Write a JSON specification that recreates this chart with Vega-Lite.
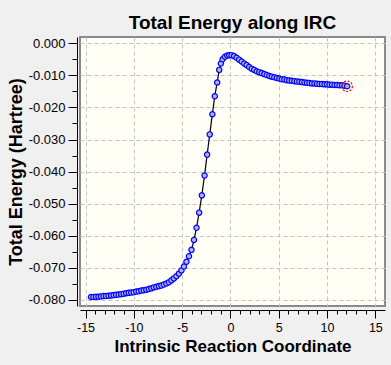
{
  "$schema": "https://vega.github.io/schema/vega-lite/v6.json",
  "autosize": {"type": "none"},
  "padding": {"left": 80, "top": 37, "right": 6, "bottom": 59},
  "width": 305,
  "height": 269,
  "background": "#F0F0F0",
  "title": {"text": "Total Energy along IRC", "fontSize": 19, "font": "Liberation Sans", "fontWeight": "bold", "color": "#000000", "anchor": "middle", "baseline": "alphabetic", "offset": -11},
  "config": {
    "view": {"fill": "#FFFFF5", "stroke": "#8A8A8A", "strokeWidth": 2},
    "axis": {"labelFont": "Liberation Sans", "titleFont": "Liberation Sans", "labelColor": "#000000", "titleColor": "#000000", "domainColor": "#000000", "tickColor": "#000000", "gridColor": "#C4C4C4", "gridDash": [4, 3], "gridWidth": 1, "labelOverlap": false, "labelFlush": false}
  },
  "data": {"values": [
    {"x": -14.43, "energy": -0.0791}, {"x": -14.17, "energy": -0.0791}, {"x": -13.91, "energy": -0.0790}, {"x": -13.65, "energy": -0.0790},
    {"x": -13.39, "energy": -0.0789}, {"x": -13.13, "energy": -0.0788}, {"x": -12.87, "energy": -0.0788}, {"x": -12.61, "energy": -0.0787},
    {"x": -12.35, "energy": -0.0786}, {"x": -12.09, "energy": -0.0785}, {"x": -11.83, "energy": -0.0784}, {"x": -11.57, "energy": -0.0783},
    {"x": -11.31, "energy": -0.0782}, {"x": -11.05, "energy": -0.0781}, {"x": -10.79, "energy": -0.0779}, {"x": -10.53, "energy": -0.0778},
    {"x": -10.27, "energy": -0.0777}, {"x": -10.01, "energy": -0.0776}, {"x": -9.75, "energy": -0.0774}, {"x": -9.49, "energy": -0.0773},
    {"x": -9.23, "energy": -0.0771}, {"x": -8.97, "energy": -0.0770}, {"x": -8.71, "energy": -0.0768}, {"x": -8.45, "energy": -0.0766},
    {"x": -8.19, "energy": -0.0764}, {"x": -7.93, "energy": -0.0761}, {"x": -7.67, "energy": -0.0759}, {"x": -7.41, "energy": -0.0757},
    {"x": -7.15, "energy": -0.0755}, {"x": -6.89, "energy": -0.0752}, {"x": -6.63, "energy": -0.0749}, {"x": -6.37, "energy": -0.0745},
    {"x": -6.11, "energy": -0.0739}, {"x": -5.85, "energy": -0.0733}, {"x": -5.59, "energy": -0.0726}, {"x": -5.33, "energy": -0.0718},
    {"x": -5.07, "energy": -0.0708}, {"x": -4.81, "energy": -0.0696}, {"x": -4.55, "energy": -0.0681}, {"x": -4.29, "energy": -0.0664},
    {"x": -4.03, "energy": -0.0644}, {"x": -3.77, "energy": -0.0613}, {"x": -3.51, "energy": -0.0575}, {"x": -3.24, "energy": -0.0528},
    {"x": -2.96, "energy": -0.0474}, {"x": -2.68, "energy": -0.0412}, {"x": -2.41, "energy": -0.0347}, {"x": -2.14, "energy": -0.0284},
    {"x": -1.87, "energy": -0.0221}, {"x": -1.62, "energy": -0.0165}, {"x": -1.37, "energy": -0.0122}, {"x": -1.16, "energy": -0.0083},
    {"x": -0.99, "energy": -0.0063}, {"x": -0.81, "energy": -0.0050}, {"x": -0.57, "energy": -0.0042}, {"x": -0.33, "energy": -0.0038},
    {"x": -0.12, "energy": -0.0037}, {"x": 0.12, "energy": -0.0037}, {"x": 0.38, "energy": -0.0040}, {"x": 0.64, "energy": -0.0045},
    {"x": 0.90, "energy": -0.0051}, {"x": 1.16, "energy": -0.0057}, {"x": 1.42, "energy": -0.0063}, {"x": 1.68, "energy": -0.0068},
    {"x": 1.94, "energy": -0.0074}, {"x": 2.20, "energy": -0.0079}, {"x": 2.46, "energy": -0.0083}, {"x": 2.72, "energy": -0.0087},
    {"x": 2.98, "energy": -0.0090}, {"x": 3.24, "energy": -0.0093}, {"x": 3.50, "energy": -0.0096}, {"x": 3.76, "energy": -0.0099},
    {"x": 4.02, "energy": -0.0102}, {"x": 4.28, "energy": -0.0104}, {"x": 4.54, "energy": -0.0106}, {"x": 4.80, "energy": -0.0108},
    {"x": 5.06, "energy": -0.0110}, {"x": 5.32, "energy": -0.0112}, {"x": 5.58, "energy": -0.0113}, {"x": 5.84, "energy": -0.0115},
    {"x": 6.10, "energy": -0.0116}, {"x": 6.36, "energy": -0.0117}, {"x": 6.62, "energy": -0.0118}, {"x": 6.88, "energy": -0.0119},
    {"x": 7.14, "energy": -0.0120}, {"x": 7.40, "energy": -0.0121}, {"x": 7.66, "energy": -0.0122}, {"x": 7.92, "energy": -0.0123},
    {"x": 8.18, "energy": -0.0124}, {"x": 8.44, "energy": -0.0125}, {"x": 8.70, "energy": -0.0125}, {"x": 8.96, "energy": -0.0126},
    {"x": 9.22, "energy": -0.0127}, {"x": 9.48, "energy": -0.0127}, {"x": 9.74, "energy": -0.0128}, {"x": 10.00, "energy": -0.0128},
    {"x": 10.26, "energy": -0.0129}, {"x": 10.52, "energy": -0.0129}, {"x": 10.78, "energy": -0.0130}, {"x": 11.04, "energy": -0.0130},
    {"x": 11.30, "energy": -0.0131}, {"x": 11.56, "energy": -0.0131}, {"x": 11.82, "energy": -0.0132}, {"x": 12.08, "energy": -0.0134}
  ]},
  "encoding": {
    "x": {"field": "x", "type": "quantitative",
      "scale": {"domain": [-15.57, 16.0], "nice": false, "zero": false},
      "axis": {"title": "Intrinsic Reaction Coordinate", "titleFontSize": 17, "titleFontWeight": "bold", "titlePadding": 5,
        "values": [-15,-14,-13,-12,-11,-10,-9,-8,-7,-6,-5,-4,-3,-2,-1,0,1,2,3,4,5,6,7,8,9,10,11,12,13,14,15],
        "labelExpr": "datum.value % 5 == 0 ? replace(format(datum.value, 'd'), '\u2212', '-') : ''",
        "labelFontSize": 12.5, "labelPadding": 3, "offset": 4,
        "tickSize": {"condition": {"test": "datum.value % 5 == 0", "value": 8}, "value": 4},
        "gridOpacity": {"condition": {"test": "datum.value % 5 == 0", "value": 1}, "value": 0}}},
    "y": {"field": "energy", "type": "quantitative",
      "scale": {"domain": [-0.0819, 0.00196], "nice": false, "zero": false},
      "axis": {"title": "Total Energy (Hartree)", "titleFontSize": 18, "titleFontWeight": "bold", "titlePadding": 3,
        "values": [0,-0.005,-0.01,-0.015,-0.02,-0.025,-0.03,-0.035,-0.04,-0.045,-0.05,-0.055,-0.06,-0.065,-0.07,-0.075,-0.08],
        "labelExpr": "abs(round(datum.value * 1000)) % 10 == 0 ? replace(format(datum.value, '.3f'), '\u2212', '-') : ''",
        "labelFontSize": 13, "labelPadding": 3, "offset": 3,
        "tickSize": {"condition": {"test": "abs(round(datum.value * 1000)) % 10 == 0", "value": 9}, "value": 5},
        "gridOpacity": {"condition": {"test": "abs(round(datum.value * 1000)) % 10 == 0", "value": 1}, "value": 0}}}
  },
  "layer": [
    {"mark": {"type": "line", "color": "#000000", "strokeWidth": 1.2}},
    {"mark": {"type": "point", "shape": "circle", "filled": false, "fill": "#AEB6E0", "stroke": "#0000FF", "strokeWidth": 1.2, "size": 28, "opacity": 1}},
    {"transform": [{"filter": "datum.x == 12.08"}],
     "mark": {"type": "point", "shape": "circle", "filled": false, "fill": null, "stroke": "#FF0000", "strokeWidth": 1.2, "strokeDash": [2, 1.5], "size": 110, "opacity": 1}}
  ]
}
